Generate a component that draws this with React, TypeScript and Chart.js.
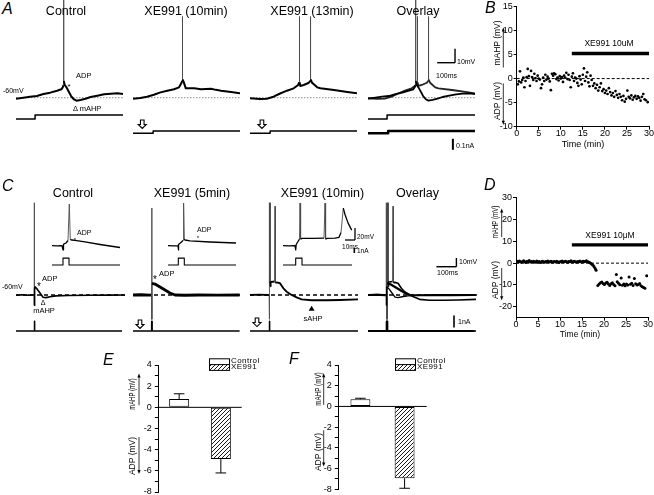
import React, { useEffect, useRef } from "react";
import { Chart, registerables } from "chart.js";

Chart.register(...registerables);

const FONT = '"Liberation Sans", Arial, Helvetica, sans-serif';

/* ================= Panel A : current-step recordings (t ms, V mV, I nA) ================= */
const A_CTRL_T = [0, 41, 79, 117, 154, 192, 230, 254, 262, 266, 267, 268, 273, 283, 296, 309, 324, 339, 362, 390, 418, 456, 494, 531, 569, 600];
const A_CTRL_V = [-60.7, -60, -59.3, -58.8, -57.4, -56.4, -55, -54, -52.6, -51, 14, -48, -50.9, -52.6, -55.7, -58.8, -61.1, -62.1, -61.6, -60.7, -59.5, -58.6, -57.6, -57.1, -56.9, -57.4];
const A_XE10_T = [0, 41, 79, 117, 154, 192, 230, 258, 271, 276, 277, 278, 284, 296, 343, 381, 410, 437, 465, 494, 550, 600];
const A_XE10_V = [-60.7, -60.2, -59.3, -57.9, -56.2, -55, -54, -52.6, -49.7, -48, -2, -47, -48.7, -53.3, -53.3, -54, -53.8, -53.6, -54.4, -55, -55.9, -56.9];
const A_XE13_T = [0, 56, 94, 132, 169, 207, 245, 270, 276, 277, 278, 282, 301, 330, 338, 339, 340, 348, 377, 395, 471, 546, 600];
const A_XE13_V = [-60.4, -60.9, -60.7, -59.3, -57, -55, -53.3, -50.9, -49, -2, -49, -51.6, -50.9, -49.3, -48, -2, -47, -49.3, -52.6, -53.3, -54.5, -55.9, -56.9];
const A_STIM_CTRL_T = [0, 107, 107, 600];
const A_STIM_CTRL_I = [0, 0, 0.036, 0.036];
const A_STIM_XE_T = [0, 113, 113, 600];
const A_STIM_XE_I = [0, 0, 0.021, 0.021];

/* ================= Panel C : brief-pulse recordings ================= */
const C_CTRL_T = [0, 30, 60, 91, 91.5, 92, 93, 95, 105, 120, 135, 150, 170, 200, 260, 370, 470, 545];
const C_CTRL_V = [-60.3, -59.8, -60.2, -60, 46, -72, -52, -50.5, -53, -57.7, -62.5, -63, -62, -61, -60.5, -60.3, -60.2, -60];
const C_X5_T = [0, 40, 85, 93.5, 94, 94.5, 95, 110, 135, 160, 185, 210, 260, 330, 420, 533];
const C_X5_V = [-60, -59.7, -60.2, -60, 40, -88, -46.6, -47.4, -50.8, -54.3, -57.7, -60, -60.3, -60, -60.2, -60];
const C_X10_T = [0, 45, 90, 96, 96.5, 97, 98, 100, 101, 103, 115, 123, 125, 127, 135, 150, 167, 183, 208, 233, 258, 308, 383, 450, 540];
const C_X10_V = [-60, -59.6, -60, -60, 46, -88, -46, 46, -50, -45, -44.7, -44.5, 42, -46, -45.5, -46.5, -52.3, -56.2, -60, -62.7, -65, -66.1, -66, -65.7, -65];
const C_STIM_CTRL_T = [0, 91.5, 91.5, 93.5, 93.5, 530];
const C_STIM_X5_T = [0, 93.5, 93.5, 95.5, 95.5, 533];
const C_STIM_X10_T = [0, 96.5, 96.5, 98.5, 98.5, 540];
const C_STIM_I = [0, 0, 0.8, 0.8, 0, 0];

/* insets (fast time base) */
const CI_CTRL_T = [0, 5, 10, 11, 11.5, 12, 14, 16, 17.3, 18.3, 20, 23, 33, 48, 68];
const CI_CTRL_V = [-60, -60.2, -60, -67, -58, -57, -55.5, -51.3, 9.5, -50, -50.5, -51.3, -53.8, -58, -63];
const CI_X5_T = [0, 5, 10, 10.3, 10.8, 12, 14, 15, 15.6, 16.3, 17, 22, 42, 68];
const CI_X5_V = [-60, -60.2, -60, -67, -58, -56, -53, -51, 11, -49, -50.5, -52, -53.8, -55.5];
const CI_X10_T = [0, 6, 12, 12.7, 13.2, 15, 16.5, 17, 17.6, 19, 30, 41, 42, 42.6, 44, 52, 56, 58, 60.3, 62, 65, 68.7];
const CI_X10_V = [-60, -60.2, -60, -67, -58, -53, -49, 11, -49, -47.7, -47.9, -47.5, 11, -49, -47.7, -47.5, -46, -38, 2.5, -8, -22, -34];
const CI_STIM_CTRL_T = [0, 11, 11, 17, 17, 68];
const CI_STIM_X5_T = [0, 10.3, 10.3, 16.3, 16.3, 68];
const CI_STIM_X10_T = [0, 12.7, 12.7, 19, 19, 69];
const CI_STIM_I = [0, 0, 1.3, 1.3, 0, 0];

/* ================= Panel B : time course (min, mV) ================= */
const B_TIME = [
  0.25, 0.5, 0.75, 1, 1.25, 1.5, 1.75, 2, 2.25, 2.5,
  2.75, 3, 3.25, 3.5, 3.75, 4, 4.25, 4.5, 4.75, 5,
  5.25, 5.5, 5.75, 6, 6.25, 6.5, 6.75, 7, 7.25, 7.5,
  7.75, 8, 8.25, 8.5, 8.75, 9, 9.25, 9.5, 9.75, 10,
  10.25, 10.5, 10.75, 11, 11.25, 11.5, 11.75, 12, 12.25, 12.5,
  12.75, 13, 13.25, 13.5, 13.75, 14, 14.25, 14.5, 14.75, 15,
  15.25, 15.5, 15.75, 16, 16.25, 16.5, 16.75, 17,
  17.3, 17.6, 17.9, 18.2, 18.5, 18.8, 19.1, 19.4, 19.7, 20.0,
  20.3, 20.6, 20.9, 21.2, 21.5, 21.8, 22.1, 22.4, 22.7, 23.0,
  23.3, 23.6, 23.9, 24.2, 24.5, 24.8, 25.1, 25.4, 25.7, 26.0,
  26.3, 26.6, 26.9, 27.2, 27.5, 27.8, 28.1, 28.4, 28.7, 29.0,
  29.3, 29.7,
];
const B_VALUE = [
  -1.2, -0.6, 1.5, -0.8, -0.3, 0.2, -1.8, -0.5, 0.3, 2.0,
  0.5, -1.5, 1.6, 0.3, -0.3, 1.0, 0.1, -0.5, 0.6, 0.0,
  -0.2, -2.0, -1.2, 0.2, -0.5, 0.8, -0.2, 0.4, 0.0, -0.6,
  -2.4, 1.0, 0.6, 1.1, 0.9, -0.1, 0.2, -0.4, 0.5, 0.0,
  0.3, -0.7, 0.6, 0.2, 1.2, -0.1, 0.8, -0.3, -1.8, 0.4,
  1.1, -0.5, 0.2, 0.0, -0.9, -1.5, 0.5, -0.2, -1.2, 0.8,
  2.1, -0.5, 0.4, 1.3, -0.8, -1.6, 0.6, -0.3,
  -1.5, -1.0, -2.0, -1.3, -2.5, -1.8, -1.0, -2.6, -2.2, -3.0,
  -2.5, -3.2, -2.0, -2.8, -3.5, -3.0, -3.8, -2.6, -3.4, -4.0,
  -3.2, -3.8, -4.5, -3.6, -4.8, -4.2, -2.5, -3.8, -4.1, -3.5,
  -4.4, -3.9, -3.6, -4.2, -3.7, -4.0, -4.6, -3.8, -3.2, -4.3,
  -4.5, -4.9,
];
const B_DRUG_T = [12.5, 30];
const B_DRUG_LEVEL = [5.2, 5.2];
const B_XTICKS = [0, 5, 10, 15, 20, 25, 30];
const B_YTICKS = [-10, -5, 0, 5, 10, 15];

/* ================= Panel D : time course ================= */
const D_TIME = [
  0, 0.25, 0.5, 0.75, 1, 1.25, 1.5, 1.75, 2, 2.25,
  2.5, 2.75, 3, 3.25, 3.5, 3.75, 4, 4.25, 4.5, 4.75,
  5, 5.25, 5.5, 5.75, 6, 6.25, 6.5, 6.75, 7, 7.25,
  7.5, 7.75, 8, 8.25, 8.5, 8.75, 9, 9.25, 9.5, 9.75,
  10, 10.25, 10.5, 10.75, 11, 11.25, 11.5, 11.75, 12, 12.25,
  12.5, 12.75, 13, 13.25, 13.5, 13.75, 14, 14.25, 14.5, 14.75,
  15, 15.25, 15.5, 15.75, 16, 16.25, 16.5, 16.75,
  17, 17.25, 17.5, 17.75, 18, 18.2,
  18.6, 18.9, 19.2, 19.5, 19.8, 20.1, 20.4, 20.7, 21.0, 21.3,
  21.6, 21.9, 22.2, 22.5, 22.8, 23.0, 23.3, 23.6, 23.9, 24.2,
  24.5, 24.8, 25.1, 25.4, 25.7, 26.0, 26.3, 26.6, 26.9, 27.2,
  27.5, 27.8, 28.1, 28.4, 28.7, 29.0, 29.3, 29.7,
];
const D_VALUE = [
  0.6, 0.9, 0.5, 1.0, 0.7, 0.4, 0.8, 1.1, 0.6, 0.3,
  0.9, 0.7, 1.2, 0.5, 0.8, 0.6, 0.9, 0.4, 0.7, 1.0,
  0.5, 0.8, 0.3, 0.6, 0.9, 0.7, 0.4, 0.8, 0.6, 1.0,
  0.5, 0.7, 0.9, 0.4, 0.6, 0.8, 0.5, 0.9, 0.7, 0.3,
  0.6, 0.8, 1.0, 0.5, 0.7, 0.9, 0.6, 0.4, 0.8, 0.7,
  1.1, 0.5, 0.6, 0.9, 0.7, 0.4, 0.8, 0.6, 1.0, 0.7,
  0.5, 0.9, 0.6, 0.8, 1.1, 0.7, 0.5, 0.3,
  0.0, -0.5, -1.0, -1.7, -2.5, -3.3,
  -10.2, -9.5, -9.0, -8.6, -9.3, -9.8, -9.1, -8.8, -9.6, -10.2,
  -9.4, -9.0, -9.8, -10.4, -5.2, -8.5, -9.2, -9.9, -6.8, -10.1,
  -9.6, -10.3, -9.5, -10.0, -6.4, -9.7, -9.2, -10.2, -7.0, -9.4,
  -10.0, -9.8, -9.3, -10.4, -10.8, -11.2, -11.5, -5.8,
];
const D_DRUG_T = [12.7, 30];
const D_DRUG_LEVEL = [8.4, 8.4];
const D_XTICKS = [0, 5, 10, 15, 20, 25, 30];
const D_YTICKS = [-20, -10, 0, 10, 20, 30];
const ZERO_T = [0, 30];
const ZERO_V = [0, 0];

/* ================= Panels E, F : summary bars ================= */
const GROUPS = ["Control", "XE991"];
const E_MEAN = [0.78, -4.88];
const E_SEM = [0.5, 1.32];
const F_MEAN = [0.69, -6.93];
const F_SEM = [0.1, 0.97];
const EF_YTICKS = [-8, -7, -6, -5, -4, -3, -2, -1, 0, 1, 2, 3, 4];

/* ---------------------------------------------------------------------- */
type Axis = { ppu: number; basePx: number; value: number };
type Series = { t: number[]; y: number[]; axis: string; width: number; color?: string; spikes?: boolean };
type Anno = {
  kind: "hline" | "vbar" | "arrow" | "tri";
  axis: string;
  t?: number; t0?: number; t1?: number;
  y?: number; y0?: number; y1?: number;
  width?: number; color?: string; dash?: number[]; under?: boolean;
};
type Cell = {
  key: string; left: number; top: number; w: number; h: number;
  t0: number; t1: number; axes: Record<string, Axis>; series: Series[]; annos: Anno[];
};

const vA: Axis = { ppu: 1.4, basePx: 97.7, value: -60 };
const vC: Axis = { ppu: 0.87, basePx: 295, value: -60 };
const iC: Axis = { ppu: 12, basePx: 331, value: 0 };
const vI: Axis = { ppu: 0.6, basePx: 245.7, value: -60 };
const iI: Axis = { ppu: 5.3, basePx: 265, value: 0 };

const dottedA = (): Anno => ({ kind: "hline", axis: "v", y: -60, t0: 0, t1: 600, dash: [1.5, 1.5], color: "#8c8c8c", width: 1, under: true });
const dashedC = (t1: number): Anno => ({ kind: "hline", axis: "v", y: -60, t0: 0, t1, dash: [4, 3], color: "#000", width: 1.3, under: true });

const CELLS: Cell[] = [
  // ----- A
  {
    key: "a1", left: 16, top: 0, w: 107, h: 152, t0: 0, t1: 600,
    axes: { v: vA, i: { ppu: 110, basePx: 119, value: 0 } },
    series: [
      { t: A_CTRL_T, y: A_CTRL_V, axis: "v", width: 2, spikes: true },
      { t: A_STIM_CTRL_T, y: A_STIM_CTRL_I, axis: "i", width: 1.5 },
    ],
    annos: [dottedA()],
  },
  {
    key: "a2", left: 133, top: 0, w: 107, h: 152, t0: 0, t1: 600,
    axes: { v: vA, i: { ppu: 110, basePx: 133.3, value: 0 } },
    series: [
      { t: A_XE10_T, y: A_XE10_V, axis: "v", width: 2, spikes: true },
      { t: A_STIM_XE_T, y: A_STIM_XE_I, axis: "i", width: 1.5 },
    ],
    annos: [dottedA(), { kind: "arrow", axis: "i", t: 52, y: 0.121 }],
  },
  {
    key: "a3", left: 250, top: 0, w: 107, h: 152, t0: 0, t1: 600,
    axes: { v: vA, i: { ppu: 110, basePx: 133.3, value: 0 } },
    series: [
      { t: A_XE13_T, y: A_XE13_V, axis: "v", width: 2, spikes: true },
      { t: A_STIM_XE_T, y: A_STIM_XE_I, axis: "i", width: 1.5 },
    ],
    annos: [dottedA(), { kind: "arrow", axis: "i", t: 67, y: 0.121 }],
  },
  {
    key: "a4", left: 368, top: 0, w: 107, h: 152, t0: 0, t1: 600,
    axes: { v: vA, i1: { ppu: 110, basePx: 119, value: 0 }, i2: { ppu: 110, basePx: 133.3, value: 0 } },
    series: [
      { t: A_CTRL_T, y: A_CTRL_V, axis: "v", width: 1.8, spikes: true },
      { t: A_XE13_T, y: A_XE13_V, axis: "v", width: 1.8, color: "#222", spikes: true },
      { t: A_STIM_CTRL_T, y: A_STIM_CTRL_I, axis: "i1", width: 1.5 },
      { t: A_STIM_XE_T, y: A_STIM_XE_I, axis: "i2", width: 2.6 },
    ],
    annos: [
      dottedA(),
      { kind: "vbar", axis: "v", t: 488, y0: -35, y1: -25, width: 1.4 },
      { kind: "hline", axis: "v", y: -35, t0: 388, t1: 488, width: 1.4 },
      { kind: "vbar", axis: "i1", t: 476, y0: -0.18, y1: -0.28, width: 2 },
    ],
  },
  // ----- C main traces
  {
    key: "c1", left: 16, top: 198, w: 110, h: 140, t0: 0, t1: 550,
    axes: { v: vC, i: iC },
    series: [
      { t: C_CTRL_T, y: C_CTRL_V, axis: "v", width: 1.6, spikes: true },
      { t: C_STIM_CTRL_T, y: C_STIM_I, axis: "i", width: 1.6 },
    ],
    annos: [dashedC(545)],
  },
  {
    key: "c2", left: 133, top: 198, w: 110, h: 140, t0: 0, t1: 550,
    axes: { v: vC, i: iC },
    series: [
      { t: C_X5_T, y: C_X5_V, axis: "v", width: 2.8, spikes: true },
      { t: C_STIM_X5_T, y: C_STIM_I, axis: "i", width: 1.6 },
    ],
    annos: [dashedC(535), { kind: "arrow", axis: "i", t: 35, y: 0.92 }],
  },
  {
    key: "c3", left: 250, top: 198, w: 110, h: 140, t0: 0, t1: 550,
    axes: { v: vC, i: iC },
    series: [
      { t: C_X10_T, y: C_X10_V, axis: "v", width: 1.9, spikes: true },
      { t: C_STIM_X10_T, y: C_STIM_I, axis: "i", width: 1.6 },
    ],
    annos: [dashedC(540), { kind: "arrow", axis: "i", t: 35, y: 1.08 }, { kind: "tri", axis: "v", t: 308, y: -72.3 }],
  },
  {
    key: "c4", left: 368, top: 198, w: 110, h: 140, t0: 0, t1: 550,
    axes: { v: vC, i: iC },
    series: [
      { t: C_CTRL_T, y: C_CTRL_V, axis: "v", width: 1.3, spikes: true },
      { t: C_X5_T, y: C_X5_V, axis: "v", width: 2.2, spikes: true },
      { t: C_X10_T, y: C_X10_V, axis: "v", width: 1.6, spikes: true },
      { t: C_STIM_CTRL_T, y: C_STIM_I, axis: "i", width: 1.6 },
      { t: C_STIM_X5_T, y: C_STIM_I, axis: "i", width: 1.6 },
      { t: C_STIM_X10_T, y: C_STIM_I, axis: "i", width: 1.6 },
    ],
    annos: [
      dashedC(540),
      { kind: "vbar", axis: "v", t: 442, y0: -27.5, y1: -17.5, width: 1.4 },
      { kind: "hline", axis: "v", y: -27.5, t0: 342, t1: 442, width: 1.4 },
      { kind: "vbar", axis: "i", t: 430, y0: 0.3, y1: 1.3, width: 1.6 },
    ],
  },
  // ----- C insets
  {
    key: "i1", left: 52, top: 198, w: 70, h: 72, t0: 0, t1: 70,
    axes: { v: vI, i: iI },
    series: [
      { t: CI_CTRL_T, y: CI_CTRL_V, axis: "v", width: 1.3, spikes: true },
      { t: CI_STIM_CTRL_T, y: CI_STIM_I, axis: "i", width: 1.1 },
    ],
    annos: [],
  },
  {
    key: "i2", left: 168, top: 198, w: 70, h: 72, t0: 0, t1: 70,
    axes: { v: vI, i: iI },
    series: [
      { t: CI_X5_T, y: CI_X5_V, axis: "v", width: 1.3, spikes: true },
      { t: CI_STIM_X5_T, y: CI_STIM_I, axis: "i", width: 1.1 },
    ],
    annos: [],
  },
  {
    key: "i3", left: 283, top: 198, w: 82, h: 72, t0: 0, t1: 82,
    axes: { v: vI, i: iI },
    series: [
      { t: CI_X10_T, y: CI_X10_V, axis: "v", width: 1.3, spikes: true },
      { t: CI_STIM_X10_T, y: CI_STIM_I, axis: "i", width: 1.1 },
    ],
    annos: [
      { kind: "vbar", axis: "v", t: 72, y0: -50.5, y1: -30.5, width: 1.3 },
      { kind: "hline", axis: "v", y: -50.5, t0: 62, t1: 72, width: 1.3 },
      { kind: "vbar", axis: "i", t: 71.3, y0: 2.26, y1: 3.26, width: 1.6 },
    ],
  },
];

function annoPlugin(annos: Anno[]) {
  const draw = (chart: any, under: boolean) => {
    const ctx = chart.ctx;
    const xs = chart.scales.x;
    ctx.save();
    for (const a of annos) {
      if (!!a.under !== under) continue;
      const ys = chart.scales[a.axis];
      ctx.strokeStyle = a.color || "#000";
      ctx.fillStyle = a.color || "#000";
      ctx.lineWidth = a.width || 1;
      ctx.setLineDash(a.dash || []);
      ctx.beginPath();
      if (a.kind === "hline") {
        const y = ys.getPixelForValue(a.y);
        ctx.moveTo(xs.getPixelForValue(a.t0), y);
        ctx.lineTo(xs.getPixelForValue(a.t1), y);
        ctx.stroke();
      } else if (a.kind === "vbar") {
        const x = xs.getPixelForValue(a.t);
        ctx.moveTo(x, ys.getPixelForValue(a.y0));
        ctx.lineTo(x, ys.getPixelForValue(a.y1));
        ctx.stroke();
      } else if (a.kind === "arrow") {
        const x = xs.getPixelForValue(a.t);
        const y = ys.getPixelForValue(a.y);
        ctx.lineWidth = 1.1;
        ctx.moveTo(x - 1.8, y);
        ctx.lineTo(x + 1.8, y);
        ctx.lineTo(x + 1.8, y + 4.5);
        ctx.lineTo(x + 4, y + 4.5);
        ctx.lineTo(x, y + 8.5);
        ctx.lineTo(x - 4, y + 4.5);
        ctx.lineTo(x - 1.8, y + 4.5);
        ctx.closePath();
        ctx.fillStyle = "#fff";
        ctx.fill();
        ctx.stroke();
      } else if (a.kind === "tri") {
        const x = xs.getPixelForValue(a.t);
        const y = ys.getPixelForValue(a.y);
        ctx.moveTo(x, y);
        ctx.lineTo(x + 3, y + 5);
        ctx.lineTo(x - 3, y + 5);
        ctx.closePath();
        ctx.fill();
      }
    }
    ctx.restore();
  };
  return {
    id: "annos",
    beforeDatasetsDraw(chart: any) { draw(chart, true); },
    afterDatasetsDraw(chart: any) { draw(chart, false); },
  };
}

function TraceCanvas({ cell }: { cell: Cell }) {
  const ref = useRef<HTMLCanvasElement>(null);
  useEffect(() => {
    const scales: any = { x: { type: "linear", display: false, min: cell.t0, max: cell.t1 } };
    for (const id of Object.keys(cell.axes)) {
      const ax = cell.axes[id];
      const rel = ax.basePx - cell.top;
      scales[id] = {
        type: "linear", display: false,
        min: ax.value - (cell.h - rel) / ax.ppu,
        max: ax.value + rel / ax.ppu,
      };
    }
    const big = (c: any) => Math.abs(c.p1.parsed.y - c.p0.parsed.y) > 20;
    const datasets = cell.series.map((s) => ({
      data: s.t.map((t, i) => ({ x: t, y: s.y[i] })),
      yAxisID: s.axis,
      borderColor: s.color || "#000",
      borderWidth: s.width,
      pointRadius: 0,
      fill: false,
      tension: 0,
      borderJoinStyle: "round",
      segment: s.spikes
        ? {
            borderWidth: (c: any) => (big(c) ? 0.9 : undefined),
            borderColor: (c: any) => (big(c) ? "#4a4a4a" : undefined),
          }
        : undefined,
    }));
    const chart = new Chart(ref.current as HTMLCanvasElement, {
      type: "line",
      data: { datasets } as any,
      options: {
        animation: false,
        responsive: false,
        events: [],
        layout: { autoPadding: false, padding: 0 },
        plugins: { legend: { display: false }, tooltip: { enabled: false } },
        scales,
      } as any,
      plugins: [annoPlugin(cell.annos)],
    });
    return () => chart.destroy();
  }, [cell]);
  return (
    <canvas ref={ref} width={cell.w} height={cell.h}
      style={{ position: "absolute", left: cell.left, top: cell.top, width: cell.w, height: cell.h }} />
  );
}

/* ---------- shared axis styling ---------- */
const TICK_FONT = { family: FONT, size: 9 };
const GRID = { display: true, drawOnChartArea: false, drawTicks: true, tickLength: 3, color: "#000", lineWidth: 1 };
const BORDER = { display: true, color: "#000", width: 1 };

type ArrowSpec = { dx: number; from: number; to: number };

function drawAxisArrows(chart: any, arrows: ArrowSpec[]) {
  const ctx = chart.ctx;
  const ys = chart.scales.y;
  const ca = chart.chartArea;
  ctx.save();
  ctx.strokeStyle = "#000";
  ctx.fillStyle = "#000";
  ctx.lineWidth = 0.8;
  for (const a of arrows) {
    const x = ca.left + a.dx;
    const y0 = ys.getPixelForValue(a.from);
    const y1 = ys.getPixelForValue(a.to);
    const dir = y1 < y0 ? -1 : 1;
    ctx.beginPath();
    ctx.moveTo(x, y0);
    ctx.lineTo(x, y1 - dir * 3);
    ctx.stroke();
    ctx.beginPath();
    ctx.moveTo(x, y1);
    ctx.lineTo(x - 1.6, y1 - dir * 4);
    ctx.lineTo(x + 1.6, y1 - dir * 4);
    ctx.closePath();
    ctx.fill();
  }
  ctx.restore();
}

type ScatterCfg = {
  left: number; top: number; w: number; h: number;
  plot: { l: number; t: number; r: number; b: number };
  t: number[]; v: number[]; r: number;
  drugT: number[]; drugLevel: number[]; drugW: number;
  ymin: number; ymax: number; xticks: number[]; yticks: number[];
  arrows: ArrowSpec[];
};

const B_CFG: ScatterCfg = {
  left: 488, top: 0, w: 180, h: 160,
  plot: { l: 516.7, t: 5.7, r: 649, b: 126.7 },
  t: B_TIME, v: B_VALUE, r: 1.35,
  drugT: B_DRUG_T, drugLevel: B_DRUG_LEVEL, drugW: 3.4,
  ymin: -10, ymax: 15, xticks: B_XTICKS, yticks: B_YTICKS,
  arrows: [{ dx: -13.4, from: 2.3, to: 10.6 }, { dx: -13.4, from: -1.0, to: -9.6 }],
};
const D_CFG: ScatterCfg = {
  left: 488, top: 185, w: 180, h: 165,
  plot: { l: 516, t: 197.7, r: 648, b: 317.7 },
  t: D_TIME, v: D_VALUE, r: 1.5,
  drugT: D_DRUG_T, drugLevel: D_DRUG_LEVEL, drugW: 3.4,
  ymin: -25, ymax: 30, xticks: D_XTICKS, yticks: D_YTICKS,
  arrows: [{ dx: -14.3, from: 12, to: 25 }, { dx: -14.3, from: -2.2, to: -17 }],
};

function ScatterPanel({ cfg }: { cfg: ScatterCfg }) {
  const ref = useRef<HTMLCanvasElement>(null);
  useEffect(() => {
    const c = cfg;
    const xH = 14;
    const yW = c.plot.l - c.left;
    const chart = new Chart(ref.current as HTMLCanvasElement, {
      type: "scatter",
      data: {
        datasets: [
          {
            data: ZERO_T.map((t, i) => ({ x: t, y: ZERO_V[i] })),
            showLine: true, borderColor: "#000", borderWidth: 1, borderDash: [3, 2], pointRadius: 0,
          },
          {
            data: c.drugT.map((t, i) => ({ x: t, y: c.drugLevel[i] })),
            showLine: true, borderColor: "#000", borderWidth: c.drugW, pointRadius: 0, borderCapStyle: "butt",
          },
          {
            data: c.t.map((t, i) => ({ x: t, y: c.v[i] })),
            pointRadius: c.r, backgroundColor: "#000", borderWidth: 0, pointBorderWidth: 0,
          },
        ],
      } as any,
      options: {
        animation: false,
        responsive: false,
        events: [],
        layout: {
          autoPadding: false,
          padding: { left: 0, top: c.plot.t - c.top, right: c.left + c.w - c.plot.r, bottom: c.top + c.h - c.plot.b - xH },
        },
        plugins: { legend: { display: false }, tooltip: { enabled: false } },
        scales: {
          x: {
            type: "linear", min: 0, max: 30,
            afterBuildTicks: (s: any) => { s.ticks = c.xticks.map((v) => ({ value: v })); },
            afterFit: (s: any) => { s.height = xH; },
            grid: GRID, border: BORDER,
            ticks: { font: TICK_FONT, color: "#000", padding: -1.5, maxRotation: 0, autoSkip: false },
          },
          y: {
            type: "linear", min: c.ymin, max: c.ymax,
            afterBuildTicks: (s: any) => { s.ticks = c.yticks.map((v) => ({ value: v })); },
            afterFit: (s: any) => { s.width = yW; },
            grid: GRID, border: BORDER,
            ticks: { font: TICK_FONT, color: "#000", padding: 1, autoSkip: false },
          },
        },
      } as any,
      plugins: [{ id: "axarrows", afterDraw: (ch: any) => drawAxisArrows(ch, c.arrows) }],
    });
    return () => chart.destroy();
  }, [cfg]);
  return (
    <canvas ref={ref} width={cfg.w} height={cfg.h}
      style={{ position: "absolute", left: cfg.left, top: cfg.top, width: cfg.w, height: cfg.h }} />
  );
}

type BarCfg = {
  left: number; top: number; w: number; h: number;
  plot: { l: number; t: number; r: number; b: number };
  mean: number[]; sem: number[]; barPct: number;
  legend: { x: number; y: number; w: number; h: number };
  arrows: ArrowSpec[];
};
const E_CFG: BarCfg = {
  left: 115, top: 345, w: 145, h: 165,
  plot: { l: 158.3, t: 365, r: 241.7, b: 492 },
  mean: E_MEAN, sem: E_SEM, barPct: 0.48,
  legend: { x: 209, y: 358.3, w: 20, h: 5.8 },
  arrows: [{ dx: -19.3, from: 0.2, to: 3.2 }, { dx: -19.3, from: -2.8, to: -6.3 }],
};
const F_CFG: BarCfg = {
  left: 295, top: 345, w: 150, h: 165,
  plot: { l: 338.3, t: 365, r: 426.7, b: 489.3 },
  mean: F_MEAN, sem: F_SEM, barPct: 0.45,
  legend: { x: 395, y: 358.3, w: 20, h: 5.8 },
  arrows: [{ dx: -14.6, from: 0.15, to: 3.2 }, { dx: -14.6, from: -2.3, to: -5.8 }],
};

function makeHatch(): any {
  const c = document.createElement("canvas");
  c.width = 4;
  c.height = 4;
  const g = c.getContext("2d");
  if (!g) return "#999";
  g.fillStyle = "#fff";
  g.fillRect(0, 0, 4, 4);
  g.strokeStyle = "#000";
  g.lineWidth = 0.9;
  g.beginPath();
  g.moveTo(0, 4); g.lineTo(4, 0);
  g.moveTo(-1, 1); g.lineTo(1, -1);
  g.moveTo(3, 5); g.lineTo(5, 3);
  g.stroke();
  return g.createPattern(c, "repeat") || "#999";
}

function BarPanel({ cfg }: { cfg: BarCfg }) {
  const ref = useRef<HTMLCanvasElement>(null);
  useEffect(() => {
    const c = cfg;
    const hatch = makeHatch();
    const yW = c.plot.l - c.left;
    const deco = {
      id: "deco",
      afterDatasetsDraw(chart: any) {
        const ctx = chart.ctx;
        const ys = chart.scales.y;
        const ca = chart.chartArea;
        ctx.save();
        ctx.strokeStyle = "#000";
        ctx.lineWidth = 1;
        const y0 = ys.getPixelForValue(0);
        ctx.beginPath();
        ctx.moveTo(ca.left, y0);
        ctx.lineTo(ca.right, y0);
        ctx.stroke();
        const meta = chart.getDatasetMeta(0);
        meta.data.forEach((bar: any, i: number) => {
          const m = c.mean[i];
          const s = m >= 0 ? 1 : -1;
          const yb = ys.getPixelForValue(m);
          const ye = ys.getPixelForValue(m + s * c.sem[i]);
          ctx.beginPath();
          ctx.moveTo(bar.x, yb);
          ctx.lineTo(bar.x, ye);
          ctx.moveTo(bar.x - 5.3, ye);
          ctx.lineTo(bar.x + 5.3, ye);
          ctx.stroke();
        });
        // legend swatches
        const lx = c.legend.x - c.left;
        const ly = c.legend.y - c.top;
        ctx.fillStyle = "#fff";
        ctx.fillRect(lx, ly, c.legend.w, c.legend.h);
        ctx.strokeRect(lx + 0.5, ly + 0.5, c.legend.w, c.legend.h);
        ctx.fillStyle = hatch;
        ctx.fillRect(lx, ly + c.legend.h, c.legend.w, c.legend.h);
        ctx.strokeRect(lx + 0.5, ly + c.legend.h + 0.5, c.legend.w, c.legend.h);
        ctx.restore();
      },
      afterDraw(chart: any) { drawAxisArrows(chart, c.arrows); },
    };
    const chart = new Chart(ref.current as HTMLCanvasElement, {
      type: "bar",
      data: {
        labels: GROUPS,
        datasets: [{
          data: c.mean,
          backgroundColor: ["#fff", hatch],
          borderColor: "#000",
          borderWidth: 1,
          borderSkipped: false,
          categoryPercentage: 1,
          barPercentage: c.barPct,
        }],
      } as any,
      options: {
        animation: false,
        responsive: false,
        events: [],
        layout: {
          autoPadding: false,
          padding: { left: 0, top: c.plot.t - c.top, right: c.left + c.w - c.plot.r, bottom: c.top + c.h - c.plot.b },
        },
        plugins: { legend: { display: false }, tooltip: { enabled: false } },
        scales: {
          x: { display: false },
          y: {
            type: "linear", min: -8, max: 4,
            afterBuildTicks: (s: any) => { s.ticks = EF_YTICKS.map((v) => ({ value: v })); },
            afterFit: (s: any) => { s.width = yW; },
            grid: { ...GRID, tickLength: 3.5 },
            border: BORDER,
            ticks: {
              font: TICK_FONT, color: "#000", padding: 3, autoSkip: false,
              callback: (v: any) => (Math.round(v) % 2 === 0 ? String(v) : ""),
            },
          },
        },
      } as any,
      plugins: [deco],
    });
    return () => chart.destroy();
  }, [cfg]);
  return (
    <canvas ref={ref} width={cfg.w} height={cfg.h}
      style={{ position: "absolute", left: cfg.left, top: cfg.top, width: cfg.w, height: cfg.h }} />
  );
}

/* ---------- text labels ---------- */
type Label = { s: string; x: number; y: number; size?: number; italic?: boolean; a?: "l" | "c"; rot?: boolean; sx?: number; ls?: number };
const LABELS: Label[] = [
  // A
  { s: "A", x: 2, y: 9, size: 16, italic: true, a: "l" },
  { s: "Control", x: 66, y: 11, size: 12.5 },
  { s: "XE991 (10min)", x: 186, y: 11, size: 12.5 },
  { s: "XE991 (13min)", x: 312, y: 11, size: 12.5 },
  { s: "Overlay", x: 418, y: 11, size: 12.5 },
  { s: "-60mV", x: 3, y: 90, size: 7, a: "l" },
  { s: "ADP", x: 76, y: 76, size: 7.5, a: "l" },
  { s: "*", x: 69, y: 87, size: 8 },
  { s: "Δ mAHP", x: 73, y: 109, size: 7.5, a: "l" },
  { s: "10mV", x: 457, y: 61, size: 7, a: "l" },
  { s: "100ms", x: 436, y: 75, size: 7, a: "l" },
  { s: "0.1nA", x: 456, y: 145, size: 7, a: "l" },
  // B
  { s: "B", x: 485, y: 8, size: 16, italic: true, a: "l" },
  { s: "XE991 10uM", x: 609, y: 43, size: 8.5 },
  { s: "mAHP (mV)", x: 497, y: 43, size: 8.5, rot: true },
  { s: "ADP (mV)", x: 497, y: 101, size: 8.5, rot: true },
  { s: "Time (min)", x: 583, y: 144, size: 9 },
  // C
  { s: "C", x: 2, y: 186, size: 16, italic: true, a: "l" },
  { s: "Control", x: 73, y: 193, size: 12.5 },
  { s: "XE991 (5min)", x: 192, y: 193, size: 12.5 },
  { s: "XE991 (10min)", x: 322.5, y: 193, size: 12.5 },
  { s: "Overlay", x: 417.5, y: 193, size: 12.5 },
  { s: "ADP", x: 77, y: 232, size: 7, a: "l" },
  { s: "*", x: 75, y: 240, size: 6 },
  { s: "ADP", x: 42, y: 279, size: 7.5, a: "l" },
  { s: "*", x: 39, y: 287, size: 10 },
  { s: "Δ", x: 43, y: 302, size: 7 },
  { s: "mAHP", x: 44, y: 311, size: 7.5 },
  { s: "-60mV", x: 2, y: 286, size: 7, a: "l" },
  { s: "ADP", x: 197, y: 229, size: 7, a: "l" },
  { s: "*", x: 198, y: 238, size: 6 },
  { s: "ADP", x: 159, y: 274, size: 7.5, a: "l" },
  { s: "*", x: 155, y: 280, size: 10 },
  { s: "20mV", x: 357, y: 237, size: 6.5, a: "l" },
  { s: "10ms", x: 350, y: 247, size: 6.5 },
  { s: "1nA", x: 357, y: 251, size: 6.5, a: "l" },
  { s: "sAHP", x: 313, y: 319, size: 7.5 },
  { s: "10mV", x: 459, y: 261, size: 7, a: "l" },
  { s: "100ms", x: 437, y: 272, size: 7, a: "l" },
  { s: "1nA", x: 458, y: 321, size: 7, a: "l" },
  // D
  { s: "D", x: 484, y: 185, size: 16, italic: true, a: "l" },
  { s: "XE991 10μM", x: 610, y: 235, size: 8.5 },
  { s: "mAHP (mV)", x: 495, y: 222, size: 8.5, rot: true, sx: 0.72 },
  { s: "ADP (mV)", x: 495, y: 280, size: 8.5, rot: true },
  { s: "Time (min)", x: 580, y: 334, size: 8.5 },
  // E
  { s: "E", x: 103, y: 360, size: 16, italic: true, a: "l" },
  { s: "Control", x: 231, y: 361, size: 8, a: "l", ls: 0.4 },
  { s: "XE991", x: 231, y: 367, size: 8, a: "l", ls: 0.4 },
  { s: "mAHP (mV)", x: 132, y: 394, size: 8.5, rot: true, sx: 0.7 },
  { s: "ADP (mV)", x: 132, y: 456, size: 8.5, rot: true },
  // F
  { s: "F", x: 289, y: 359, size: 16, italic: true, a: "l" },
  { s: "Control", x: 417, y: 361, size: 8, a: "l", ls: 0.4 },
  { s: "XE991", x: 417, y: 367, size: 8, a: "l", ls: 0.4 },
  { s: "mAHP (mV)", x: 318, y: 389, size: 8.5, rot: true, sx: 0.74 },
  { s: "ADP (mV)", x: 318, y: 452, size: 8.5, rot: true },
];

function TextLabel({ l }: { l: Label }) {
  let transform = l.a === "l" ? "translate(0,-50%)" : "translate(-50%,-50%)";
  if (l.rot) transform += ` rotate(-90deg)${l.sx ? ` scaleX(${l.sx})` : ""}`;
  return (
    <div
      style={{
        position: "absolute", left: l.x, top: l.y,
        fontSize: l.size || 9, fontStyle: l.italic ? "italic" : "normal",
        fontFamily: FONT, lineHeight: 1, whiteSpace: "nowrap", color: "#000",
        letterSpacing: l.ls ? `${l.ls}px` : undefined, transform,
      }}
    >
      {l.s}
    </div>
  );
}

export default function App() {
  return (
    <div style={{ position: "absolute", left: 0, top: 0, width: 654, height: 495, overflow: "hidden", background: "#fff", fontFamily: FONT }}>
      {CELLS.map((c) => <TraceCanvas key={c.key} cell={c} />)}
      <ScatterPanel cfg={B_CFG} />
      <ScatterPanel cfg={D_CFG} />
      <BarPanel cfg={E_CFG} />
      <BarPanel cfg={F_CFG} />
      {LABELS.map((l, i) => <TextLabel key={i} l={l} />)}
    </div>
  );
}
